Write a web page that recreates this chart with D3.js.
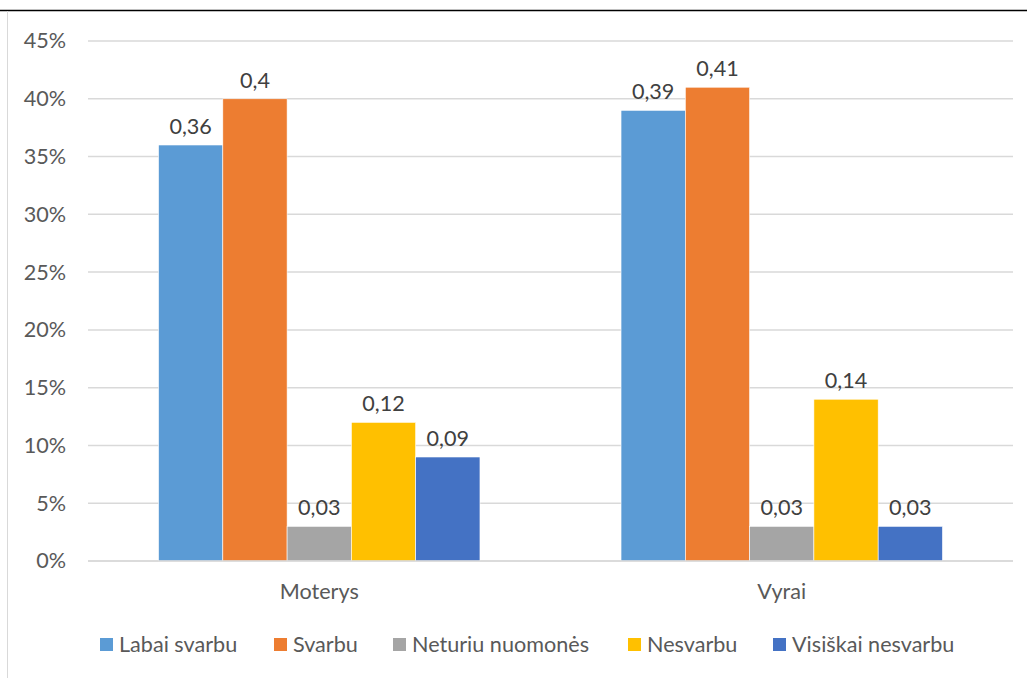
<!DOCTYPE html>
<html>
<head>
<meta charset="utf-8">
<script src="https://cdn.jsdelivr.net/npm/d3@7"></script>
<style>
  body { margin: 0; background: #fff; }
  text { font-family: "Lato", "Open Sans", sans-serif; }
</style>
</head>
<body>
<div id="chart"></div>
<script>
// data
var categories = ["Moterys", "Vyrai"];
var seriesNames = ["Labai svarbu", "Svarbu", "Neturiu nuomonės", "Nesvarbu", "Visiškai nesvarbu"];
var seriesColors = ["#5B9BD5", "#ED7D31", "#A5A5A5", "#FFC000", "#4472C4"];
var values = [
  [0.36, 0.39],   // Labai svarbu
  [0.40, 0.41],   // Svarbu
  [0.03, 0.03],   // Neturiu nuomonės
  [0.12, 0.14],   // Nesvarbu
  [0.09, 0.03]    // Visiškai nesvarbu
];
var valueLabels = [
  ["0,36", "0,39"],
  ["0,4", "0,41"],
  ["0,03", "0,03"],
  ["0,12", "0,14"],
  ["0,09", "0,03"]
];
var yTicks = [0, 0.05, 0.10, 0.15, 0.20, 0.25, 0.30, 0.35, 0.40, 0.45];

var width = 1027, height = 678;
var plot = {left: 88, right: 1013, top: 41, bottom: 561};
var fs = "21.6px";

var svg = d3.select("#chart").append("svg")
  .attr("width", width)
  .attr("height", height);

// outer frame bits
svg.append("line")
  .attr("x1", 0).attr("x2", width)
  .attr("y1", 10.5).attr("y2", 10.5)
  .attr("stroke", "#000").attr("stroke-width", 1.5);
svg.append("line")
  .attr("x1", 7.5).attr("x2", 7.5)
  .attr("y1", 11).attr("y2", height)
  .attr("stroke", "#d9d9d9").attr("stroke-width", 1);

var x0 = d3.scaleBand()
  .domain(categories)
  .range([plot.left, plot.right]);

var groupW = x0.bandwidth() * 0.695;
var x1 = d3.scaleBand()
  .domain(d3.range(seriesNames.length))
  .range([0, groupW]);

var y = d3.scaleLinear()
  .domain([0, 0.45])
  .range([plot.bottom, plot.top]);

// gridlines
svg.append("g")
  .selectAll("line")
  .data(yTicks)
  .enter().append("line")
  .attr("x1", plot.left).attr("x2", plot.right)
  .attr("y1", function(d) { return y(d); })
  .attr("y2", function(d) { return y(d); })
  .attr("stroke", "#d9d9d9")
  .attr("stroke-width", 1.5);

// y axis labels
var yAxis = d3.axisLeft(y)
  .tickValues(yTicks)
  .tickFormat(d3.format(".0%"))
  .tickSize(0)
  .tickPadding(0);
var yg = svg.append("g")
  .attr("transform", "translate(66,0)")
  .call(yAxis);
yg.select(".domain").remove();
yg.selectAll("text")
  .attr("fill", "#595959")
  .style("font-size", fs)
  .style("font-family", "Lato, 'Open Sans', sans-serif");

// bars
var groups = svg.append("g")
  .selectAll("g")
  .data(categories)
  .enter().append("g")
  .attr("transform", function(c) {
    return "translate(" + (x0(c) + (x0.bandwidth() - groupW) / 2) + ",0)";
  });

groups.each(function(c, ci) {
  var g = d3.select(this);
  seriesNames.forEach(function(s, si) {
    var v = values[si][ci];
    g.append("rect")
      .attr("x", x1(si))
      .attr("y", y(v))
      .attr("width", x1.bandwidth())
      .attr("height", y(0) - y(v))
      .attr("fill", seriesColors[si])
      .attr("stroke", "#fff")
      .attr("stroke-width", 0.6);
    g.append("text")
      .attr("x", x1(si) + x1.bandwidth() / 2)
      .attr("y", y(v) - 11)
      .attr("text-anchor", "middle")
      .attr("fill", "#404040")
      .style("font-size", fs)
      .text(valueLabels[si][ci]);
  });
});

// x axis line
svg.append("line")
  .attr("x1", plot.left).attr("x2", plot.right)
  .attr("y1", y(0)).attr("y2", y(0))
  .attr("stroke", "#d9d9d9").attr("stroke-width", 1.5);

// category labels
svg.append("g")
  .selectAll("text")
  .data(categories)
  .enter().append("text")
  .attr("x", function(c) { return x0(c) + x0.bandwidth() / 2; })
  .attr("y", 599)
  .attr("text-anchor", "middle")
  .attr("fill", "#595959")
  .style("font-size", fs)
  .text(function(d) { return d; });

// legend
var legendX = [100, 274, 393, 628, 773];
var legend = svg.append("g")
  .selectAll("g")
  .data(seriesNames)
  .enter().append("g")
  .attr("transform", function(d, i) { return "translate(" + legendX[i] + ",645)"; });
legend.append("rect")
  .attr("x", 0).attr("y", -7)
  .attr("width", 13).attr("height", 13)
  .attr("fill", function(d, i) { return seriesColors[i]; });
legend.append("text")
  .attr("x", 19).attr("y", 7)
  .attr("fill", "#595959")
  .style("font-size", fs)
  .text(function(d) { return d; });
</script>
</body>
</html>
